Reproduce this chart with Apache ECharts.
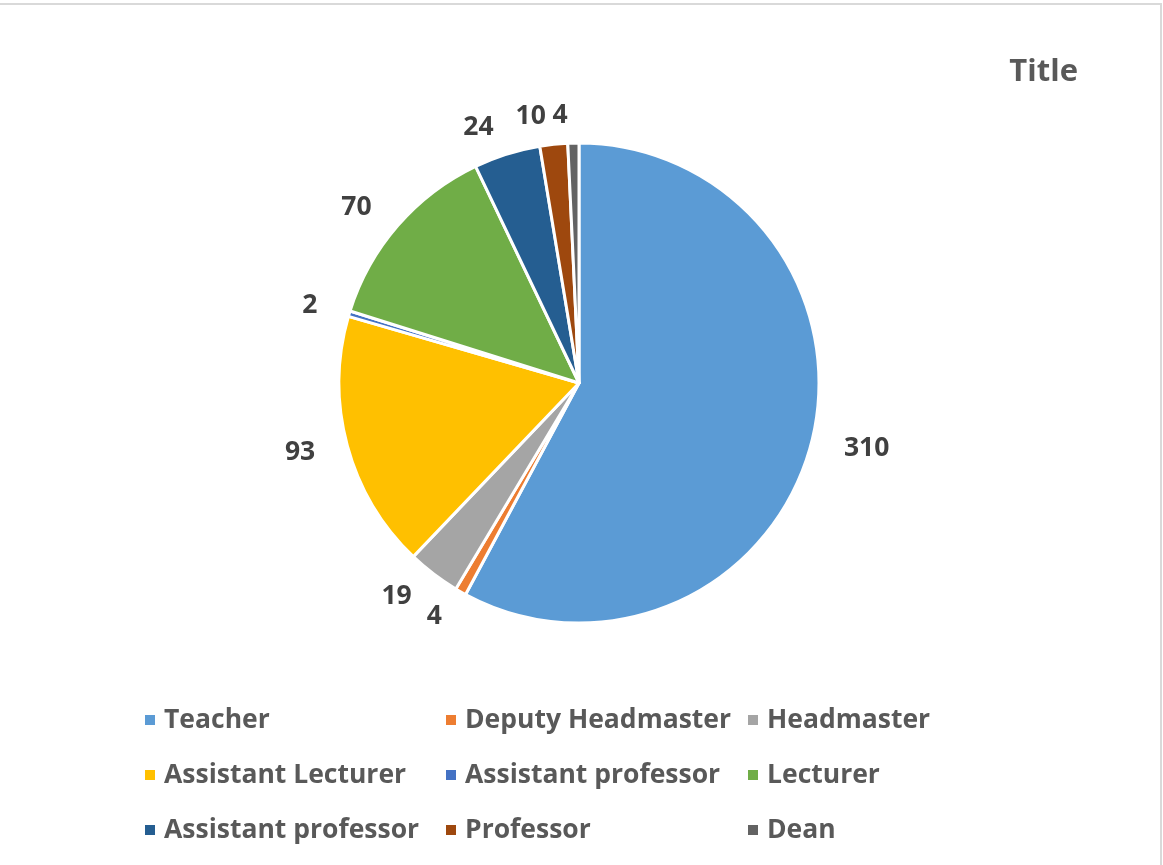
<!DOCTYPE html>
<html><head><meta charset="utf-8">
<script src="https://cdn.jsdelivr.net/npm/echarts@6/dist/echarts.min.js"></script>
<style>html,body{margin:0;padding:0;background:#fff}#c{width:1163px;height:865px}</style>
</head><body><div id="c"></div>
<script>
const categories = ['Teacher','Deputy Headmaster','Headmaster','Assistant Lecturer','Assistant professor','Lecturer','Assistant professor','Professor','Dean'];
const values = [310, 4, 19, 93, 2, 70, 24, 10, 4];
const colors = ['#5B9BD5','#ED7D31','#A5A5A5','#FFC000','#4472C4','#70AD47','#255E91','#9E480E','#636363'];
const titleText = 'Title';

// unique internal names (duplicate category labels)
const seen = {};
const names = categories.map(c => { seen[c] = (seen[c] || 0) + 1; return c + '\u200B'.repeat(seen[c] - 1); });
const data = names.map((n, i) => ({ name: n, value: values[i], itemStyle: { color: colors[i] } }));

const FONT = 'Open Sans';
const legendCol = (idx, left) => ({
  orient: 'vertical', left: left, top: 696, itemGap: 17,
  icon: 'rect', itemWidth: 12, itemHeight: 12,
  data: idx.map(i => names[i]),
  formatter: n => n.replace(/\u200B/g, ''),
  textStyle: { fontFamily: FONT, fontWeight: 'bold', fontSize: 26.5, color: '#595959', padding: [0,0,0,3], lineHeight: 38 },
  selectedMode: false
});

const chart = echarts.init(document.getElementById('c'), null, { renderer: 'canvas' });
chart.setOption({
  animation: false,
  title: { text: titleText, right: 80, top: 52, textStyle: { fontFamily: FONT, fontWeight: 'bold', fontSize: 31, color: '#595959' } },
  graphic: [{ type: 'rect', shape: { x: -2, y: 4, width: 1163, height: 900 }, style: { fill: 'none', stroke: '#D9D9D9', lineWidth: 2 }, silent: true }],
  legend: [legendCol([0,3,6], 138), legendCol([1,4,7], 439), legendCol([2,5,8], 741)],
  series: [{
    type: 'pie', center: [579, 383], radius: 240, startAngle: 90, clockwise: true,
    avoidLabelOverlap: false,
    itemStyle: { borderColor: '#fff', borderWidth: 3 },
    label: { show: true, position: 'outside', formatter: '{c}', fontFamily: FONT, fontWeight: 'bold', fontSize: 26.5, color: '#404040' },
    labelLine: { show: false, length: 28, length2: 0 },
    emphasis: { disabled: true },
    data: data
  }]
});
</script></body></html>
